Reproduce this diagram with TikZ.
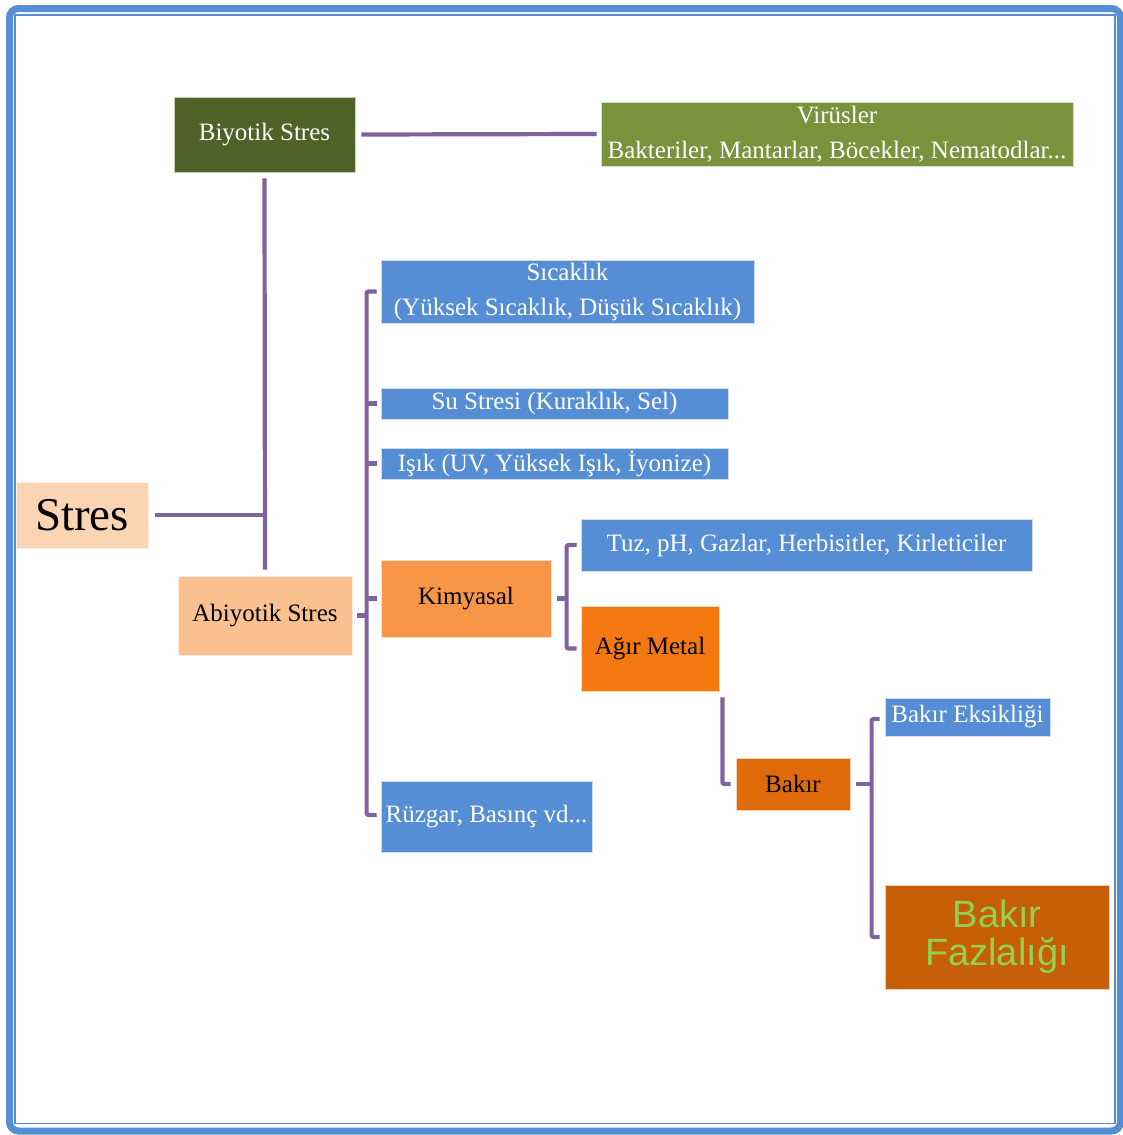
\documentclass[tikz,border=0pt]{standalone}
\usepackage{fontspec}
\setmainfont{Liberation Serif}
\newfontfamily\fazfont{Liberation Sans}
\usetikzlibrary{positioning}
\definecolor{framecol}{HTML}{558ED5}
\definecolor{linkcol}{HTML}{7F63A1}
\definecolor{bluebox}{HTML}{558ED5}
\definecolor{stresfill}{HTML}{FBD4B4}
\definecolor{biofill}{HTML}{4F6228}
\definecolor{virfill}{HTML}{77933C}
\definecolor{abifill}{HTML}{FAC090}
\definecolor{kimfill}{HTML}{F79646}
\definecolor{agirfill}{HTML}{F47910}
\definecolor{bakirfill}{HTML}{DF6A0A}
\definecolor{fazfill}{HTML}{C75F08}
\definecolor{fazgreen}{HTML}{92D050}
\begin{document}
\begin{tikzpicture}[x=1pt,y=-1pt,
    box/.style={rectangle,inner sep=0pt,align=center,draw=white!70!#1,line width=0.8pt,fill=#1,
                font=\fontsize{25}{35}\selectfont},
    whitebox/.style={box=#1,text=white},
    link/.style={linkcol,line width=4.2pt,rounded corners=2pt}]

    \useasboundingbox (0,0) rectangle (1123,1135);

    \draw[framecol,line width=7pt,rounded corners=9pt] (9.5,8.5) rectangle (1120.5,1131);

    \draw[framecol,line width=1.8pt] (15,15) rectangle (1115,1123.5);

    \node[box=stresfill,minimum width=132pt,minimum height=66pt,font=\fontsize{47}{50}\selectfont] (stres) at (82,515) {Stres};

    \node[whitebox=biofill,minimum width=181pt,minimum height=75pt] (bio) at (264.5,134.5) {Biyotik Stres};

    \node[whitebox=virfill,minimum width=472pt,minimum height=64pt] (vir) at (837,134) {Virüsler\\Bakteriler, Mantarlar, Böcekler, Nematodlar...};

    \node[box=abifill,minimum width=174pt,minimum height=79pt] (abi) at (265,615.5) {Abiyotik Stres};

    \node[whitebox=bluebox,minimum width=373pt,minimum height=63pt] (sic) at (567.5,291.5) {Sıcaklık\\(Yüksek Sıcaklık, Düşük Sıcaklık)};

    \node[whitebox=bluebox,minimum width=347pt,minimum height=31pt] (su) at (554.5,403.5) {Su Stresi (Kuraklık, Sel)};

    \node[whitebox=bluebox,minimum width=347pt,minimum height=31pt] (isik) at (554.5,463.5) {Işık (UV, Yüksek Işık, İyonize)};

    \node[box=kimfill,minimum width=170pt,minimum height=77pt] (kim) at (466,598.5) {Kimyasal};

    \node[whitebox=bluebox,minimum width=211pt,minimum height=71pt] (ruz) at (486.5,816.5) {Rüzgar, Basınç vd...};

    \node[whitebox=bluebox,minimum width=451pt,minimum height=52pt] (tuz) at (806.5,545) {Tuz, pH, Gazlar, Herbisitler, Kirleticiler};

    \node[box=agirfill,minimum width=138pt,minimum height=85pt] (agir) at (650,648.5) {Ağır Metal};

    \node[box=bakirfill,minimum width=114pt,minimum height=52pt] (bakir) at (793,784) {Bakır};

    \node[whitebox=bluebox,minimum width=165pt,minimum height=38pt] (eks) at (967.5,717) {Bakır Eksikliği};

    \node[box=fazfill,minimum width=224pt,minimum height=104pt,text=fazgreen,font=\fazfont\fontsize{38}{38}\selectfont] (faz) at (997,937) {Bakır\\Fazlalığı};

    \draw[link] ([xshift=7pt]stres.east) -- (stres.east -| bio.south);
    \draw[link] ([yshift=-6pt]bio.south) -- ([yshift=6pt]abi.north);
    \draw[link] ([xshift=6pt]bio.east) -- ([xshift=-4pt]vir.west);

    \draw[link] ([xshift=-4pt]sic.west) -- ++(-10,0) |- ([xshift=-4pt,yshift=1.5pt]ruz.west);
    \draw[link] ([xshift=-4pt]su.west) -- ++(-10,0);
    \draw[link] ([xshift=-4pt]isik.west) -- ++(-10,0);
    \draw[link] ([xshift=-4pt]kim.west) -- ++(-10,0);
    \draw[link] ([xshift=5pt]abi.east) -- ++(10,0);

    \draw[link] ([xshift=-4pt]tuz.west) -- ++(-10,0) |- ([xshift=-4pt]agir.west);
    \draw[link] ([xshift=6pt]kim.east) -- ++(10,0);

    \draw[link] ([xshift=3pt,yshift=-6pt]agir.south east) |- ([xshift=-5pt]bakir.west);

    \draw[link] ([xshift=-5pt,yshift=-2pt]eks.west) -- ++(-8,0) |- ([xshift=-5pt]faz.west);
    \draw[link] ([xshift=6pt]bakir.east) -- ++(16,0);

\end{tikzpicture}
\end{document}
